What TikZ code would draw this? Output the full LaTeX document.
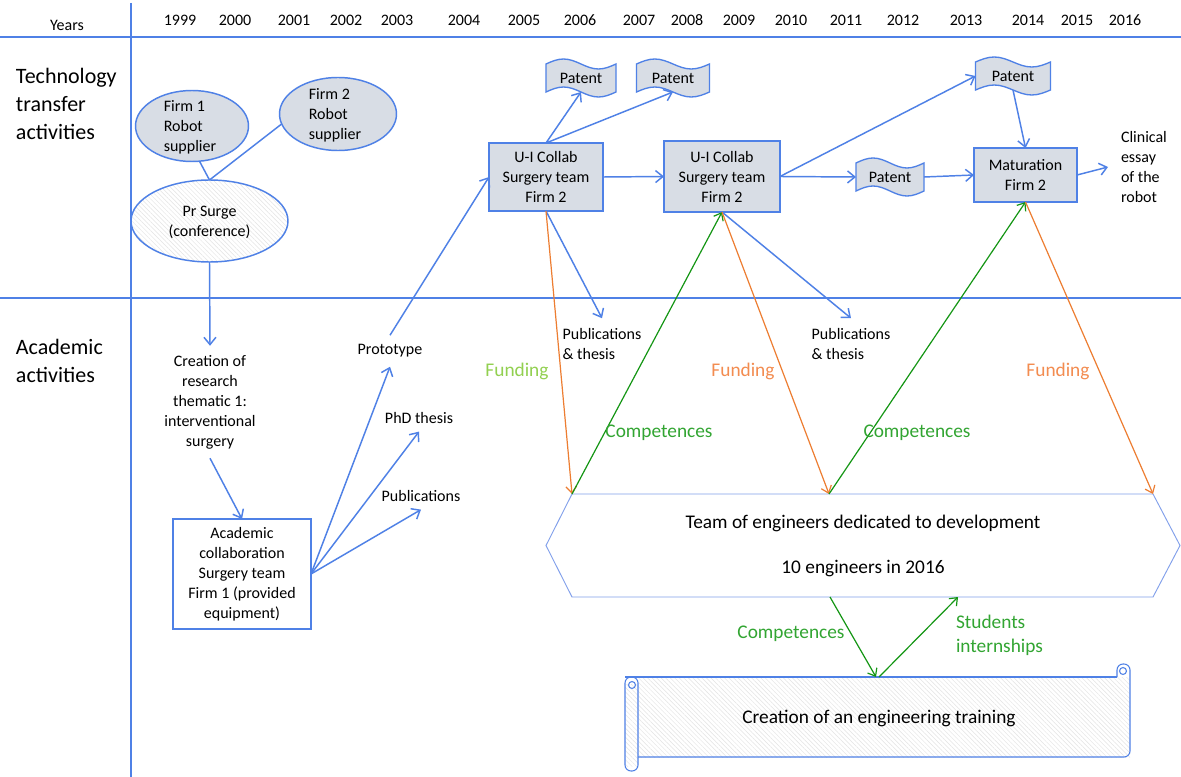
\documentclass[tikz,border=0pt]{standalone}
\usepackage{fontspec}
\setmainfont{Carlito}
\usetikzlibrary{shapes.geometric,arrows.meta,patterns.meta,calc}
\definecolor{lblue}{RGB}{79,129,230}
\definecolor{hexblue}{RGB}{130,160,235}
\definecolor{boxgray}{RGB}{216,221,229}
\definecolor{orangeL}{RGB}{237,125,49}
\definecolor{orangeT}{RGB}{243,140,80}
\definecolor{greenL}{RGB}{20,150,20}
\definecolor{greenT}{RGB}{50,165,50}
\definecolor{lgreen}{RGB}{146,208,80}
\newcommand\patentshape[4]{%
  \draw[draw=lblue, line width=1pt, fill=boxgray]
    ({#2-#4/2},{#3-14}) sin ({#2-#4/4},{#3-19}) cos ({#2},{#3-14})
    sin ({#2+#4/4},{#3-9}) cos ({#2+#4/2},{#3-14})
    -- ({#2+#4/2},{#3+14}) sin ({#2+#4/4},{#3+19}) cos ({#2},{#3+14})
    sin ({#2-#4/4},{#3+9}) cos ({#2-#4/2},{#3+14}) -- cycle;
  \node[minimum width={#4*0.75pt}, minimum height=21pt] (#1) at (#2,#3) {Patent};
}
\begin{document}
\begin{tikzpicture}[x=0.75pt,y=-0.75pt,
  every node/.style={font=\fontsize{12}{15}\selectfont, inner sep=0pt, outer sep=0pt},
  grid/.style={draw=lblue, line width=0.9pt},
  arr/.style={draw=lblue, line width=1.1pt, -{Straight Barb[length=5.5pt,width=9pt]}},
  link/.style={draw=lblue, line width=1.1pt},
  oarr/.style={draw=orangeL, line width=0.9pt, -{Straight Barb[length=5pt,width=8pt]}},
  garr/.style={draw=greenL, line width=0.9pt, -{Straight Barb[length=5pt,width=8pt]}},
  yr/.style={font=\fontsize{12}{14}\selectfont},
  head/.style={font=\fontsize{16.5}{21}\selectfont, align=left, anchor=west},
  box/.style={draw=lblue, line width=1.1pt, fill=boxgray, rectangle},
  firm/.style={draw=lblue, line width=1.1pt, fill=boxgray, ellipse},
  hatch/.style={pattern={Lines[angle=135,distance=2.4pt,line width=0.35pt]}, pattern color=gray!22},
  txt/.style={align=center},
  lbl/.style={font=\fontsize{14.5}{18}\selectfont},
  sc/.style={draw=lblue, line width=0.8pt},
]
\fill[white] (0,0) rectangle (1181,777);
\useasboundingbox (0,0) rectangle (1181,777);

% grid
\draw[grid] (0,37) -- (1181,37);
\draw[grid] (0,298) -- (1181,298);
\draw[grid] (131,3) -- (131,777);

% years
\node[yr] (yrs) at (67,25) {Years};
\foreach \x/\y in {180/1999, 235/2000, 294/2001, 346/2002, 397/2003, 464/2004, 524/2005, 580/2006, 639/2007, 687/2008, 739/2009, 791/2010, 846/2011, 903/2012, 966/2013, 1028/2014, 1077/2015, 1125/2016}
  \node[yr] (y\y) at (\x,20) {\y};

% headings
\node[head] (tt) at (16,104) {Technology\\transfer\\activities};
\node[head] (aa) at (16,361) {Academic\\activities};

% firms and conference
\node[firm, minimum width=84.75pt, minimum height=53.25pt] (f1) at (192,126) {};
\node[align=left] (f1t) at (190,127) {Firm 1\\Robot\\supplier};
\node[firm, minimum width=87.75pt, minimum height=54.75pt] (f2) at (338,114) {};
\node[align=left] (f2t) at (335,115) {Firm 2\\Robot\\supplier};
\node[ellipse, draw=lblue, line width=1.1pt, hatch, minimum width=117.75pt, minimum height=61.5pt] (pr) at (209.5,221) {};
\node[txt] (prt) at (209.5,222) {Pr Surge\\(conference)};
\draw[link] (f1.282) -- (pr.north);
\draw[link] (f2.190) -- (pr.north);

% academic side
\node[txt, inner ysep=7pt] (cr) at (210,402) {Creation of\\research\\thematic 1:\\interventional\\surgery};
\node[box, fill=white, minimum width=103.5pt, minimum height=82.5pt, txt] (ac) at (242,574) {Academic\\collaboration\\Surgery team\\Firm 1 (provided\\equipment)};
\node[inner ysep=7pt] (proto) at (390,351) {Prototype};
\node[inner ysep=6pt] (phd) at (419,418) {PhD thesis};
\node[inner ysep=6pt] (pub) at (421,496) {Publications};
\draw[arr] (pr.south) -- (cr.north);
\draw[arr] (cr.south) -- (ac.north);
\draw[arr] (ac.east) -- (proto.south);
\draw[arr] (ac.east) -- (phd.south);
\draw[arr] (ac.east) -- (pub.south);

% U-I collaboration chain
\node[box, minimum width=85.5pt, minimum height=51pt, txt] (u1) at (546,177) {U-I Collab\\Surgery team\\Firm 2};
\node[box, minimum width=87pt, minimum height=53.25pt, txt] (u2) at (722,176.5) {U-I Collab\\Surgery team\\Firm 2};
\node[box, minimum width=77.25pt, minimum height=40.5pt, txt] (mat) at (1025.5,175) {Maturation\\Firm 2};
\patentshape{p1}{581}{78}{70}
\patentshape{p2}{673}{78}{73}
\patentshape{p3}{1013}{76}{75}
\patentshape{p4}{890}{177}{68}
\node[align=left, anchor=west, inner xsep=9.75pt] (cl) at (1108,167) {Clinical\\essay\\of the\\robot};
\node[align=left, inner ysep=8pt] (pt1) at (602,344.5) {Publications\\\& thesis};
\node[align=left, inner ysep=8pt] (pt2) at (851,344.5) {Publications\\\& thesis};

\draw[arr] (proto.north) -- (u1.west);
\draw[arr] (u1.north) -- (p1.south);
\draw[arr] (u1.north) -- (p2.south);
\draw[arr] (u1.east) -- (u2.west);
\draw[arr] (u2.east) -- (p3.west);
\draw[arr] (u2.east) -- (p4.west);
\draw[arr] (p4.east) -- (mat.west);
\draw[arr] (p3.south) -- (mat.north);
\draw[arr] (mat.east) -- (cl.west);
\draw[arr] (u1.south) -- (pt1.north);
\draw[arr] (u2.south) -- (pt2.north);

% hexagon
\node[minimum width=435.75pt, minimum height=77.25pt] (hex) at (862.5,545.5) {};
\draw[draw=hexblue, line width=0.7pt] (hex.north west) -- (hex.north east) -- ([xshift=20.25pt]hex.east) -- (hex.south east) -- (hex.south west) -- ([xshift=-19.5pt]hex.west) -- cycle;
\node[font=\fontsize{14.5}{18}\selectfont] (ht1) at (863,523) {Team of engineers dedicated to development};
\node[font=\fontsize{14.5}{18}\selectfont] (ht2) at (863,569) {10 engineers in 2016};
\coordinate (h2) at (829,494);
\coordinate (hb1) at (830,597);
\coordinate (hb2) at (958,597);
\coordinate (s1) at (876,677);
\coordinate (s2) at (879,677);

% funding / competences
\draw[oarr] (u1.south) -- (hex.north west);
\draw[garr] (hex.north west) -- (u2.south);
\draw[oarr] (u2.south) -- (h2);
\draw[garr] (h2) -- (mat.south);
\draw[oarr] (mat.south) -- (hex.north east);
\node[lbl, text=lgreen] (fu1) at (517,371) {Funding};
\node[lbl, text=orangeT] (fu2) at (743,371) {Funding};
\node[lbl, text=orangeT] (fu3) at (1058,371) {Funding};
\node[lbl, text=greenT] (co1) at (659,433) {Competences};
\node[lbl, text=greenT] (co2) at (917,433) {Competences};

% scroll
\path[hatch] (638,677) rectangle (1130,757);
\path[hatch] (625,684) rectangle (638,766);
\draw[sc] (625,677) -- (1117,677);
\draw[sc, rounded corners=4.5pt] (1117,677) -- (1117,664) -- (1130,664) -- (1130,757) -- (638,757);
\draw[sc] (1123,671) circle[radius=2.6pt];
\draw[sc, rounded corners=4.5pt] (625,677) rectangle (638,771);
\draw[sc] (632,685) circle[radius=2.6pt];
\node[font=\fontsize{14.5}{18}\selectfont] (sct) at (879,718) {Creation of an engineering training};

\draw[garr] (hb1) -- (s1);
\draw[garr] (s2) -- (hb2);
\node[lbl, text=greenT] (co3) at (791,634) {Competences};
\node[lbl, text=greenT, align=left, anchor=west] (si) at (956,635) {Students\\internships};
\end{tikzpicture}
\end{document}
